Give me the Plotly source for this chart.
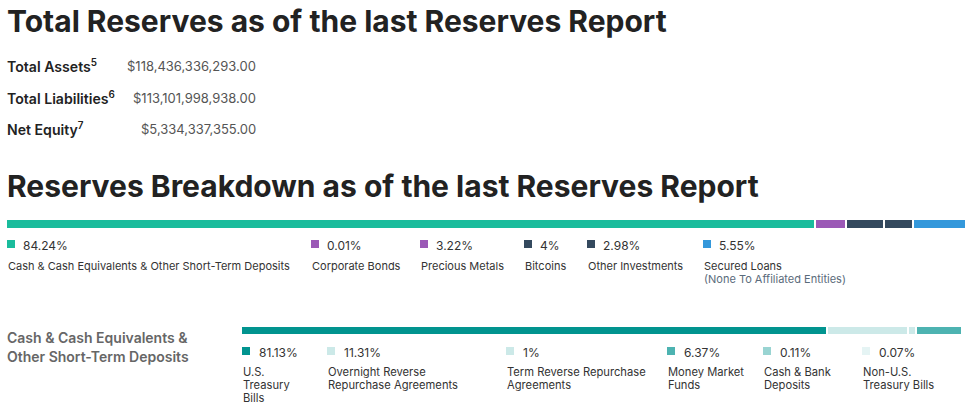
import plotly.graph_objects as go

W, H = 972, 410

# ---- data ----
summary_labels = ["Total Assets<sup>5</sup>", "Total Liabilities<sup>6</sup>", "Net Equity<sup>7</sup>"]
summary_values = ["$118,436,336,293.00", "$113,101,998,938.00", "$5,334,337,355.00"]

res_cats = ["Cash & Cash Equivalents & Other Short-Term Deposits", "Corporate Bonds",
            "Precious Metals", "Bitcoins", "Other Investments", "Secured Loans"]
res_vals = [84.24, 0.01, 3.22, 4, 2.98, 5.55]
res_pct_text = ["84.24%", "0.01%", "3.22%", "4%", "2.98%", "5.55%"]
res_colors = ["#1abc9c", "#9b59b6", "#9b59b6", "#34495e", "#34495e", "#3498db"]

cash_cats = [["U.S.", "Treasury", "Bills"], ["Overnight Reverse", "Repurchase Agreements"],
             ["Term Reverse Repurchase", "Agreements"], ["Money Market", "Funds"],
             ["Cash & Bank", "Deposits"], ["Non-U.S.", "Treasury Bills"]]
cash_vals = [81.13, 11.31, 1, 6.37, 0.11, 0.07]
cash_pct_text = ["81.13%", "11.31%", "1%", "6.37%", "0.11%", "0.07%"]
cash_colors = ["#01948f", "#cce9e8", "#cce9e8", "#4db3b1", "#99d4d2", "#e5f4f4"]

FONT = "Inter"

def px(x):
    return x / W

def py(y):
    return 1 - y / H

fig = go.Figure()

# Reserves breakdown bar (axis x/y)
for c, v, col in zip(res_cats, res_vals, res_colors):
    fig.add_trace(go.Bar(x=[v], y=[0], orientation="h", name=c,
                         marker=dict(color=col, line=dict(color="white", width=2)),
                         width=1, xaxis="x", yaxis="y", showlegend=False, hoverinfo="skip"))
# Cash breakdown bar (axis x2/y2)
for c, v, col in zip(cash_cats, cash_vals, cash_colors):
    fig.add_trace(go.Bar(x=[v], y=[0], orientation="h", name=" ".join(c),
                         marker=dict(color=col, line=dict(color="white", width=2)),
                         width=1, xaxis="x2", yaxis="y2", showlegend=False, hoverinfo="skip"))

ax_common = dict(showgrid=False, zeroline=False, showticklabels=False, fixedrange=True, showline=False)
fig.update_layout(
    barmode="stack",
    width=W, height=H,
    margin=dict(l=0, r=0, t=0, b=0),
    paper_bgcolor="white", plot_bgcolor="white",
    font=dict(family=FONT, color="#333333"),
    xaxis=dict(domain=[px(6), px(966)], range=[0, 100], **ax_common),
    yaxis=dict(domain=[py(229), py(219)], range=[-0.5, 0.5], **ax_common),
    xaxis2=dict(domain=[px(241), px(963)], range=[0, 100], anchor="y2", **ax_common),
    yaxis2=dict(domain=[py(335), py(326)], range=[-0.5, 0.5], anchor="x2", **ax_common),
)

ann = []
def text(x, y, t, size, color="#333333", weight=400, anchor="left"):
    ann.append(dict(x=px(x), y=py(y), xref="paper", yref="paper", text=t, showarrow=False,
                    xanchor=anchor, yanchor="middle", align="left",
                    font=dict(family=FONT, size=size, color=color, weight=weight)))

text(5, 21, "Total Reserves as of the last Reserves Report", 30, "#222222", 700)
text(5, 186, "Reserves Breakdown as of the last Reserves Report", 30, "#222222", 700)

sum_y = [65, 97, 128]
for lab, val, y in zip(summary_labels, summary_values, sum_y):
    text(5, y, lab, 14.1, "#222222", 600)
    text(258, y + 1, val, 13, "#555555", 400, anchor="right")

shapes = []
def square(x, y, col, s=8):
    shapes.append(dict(type="rect", xref="paper", yref="paper", x0=px(x), x1=px(x + s),
                       y0=py(y + s / 2), y1=py(y - s / 2), fillcolor=col, line=dict(width=0)))

row1_x = [6, 310, 419, 523, 586, 702]
for x, p, c, col in zip(row1_x, res_pct_text, res_cats, res_colors):
    square(x + 1, 244, col)
    text(x + 15, 245, p, 12, "#333333")
    text(x, 266, c, 11, "#333333")
text(702, 279, "(None To Affiliated Entities)", 11, "#5a6b7b")

text(5, 337, "Cash & Cash Equivalents &", 14, "#666666", 600)
text(5, 356, "Other Short-Term Deposits", 14, "#666666", 600)

row2_x = [241, 326, 505, 666, 762, 861]
for x, p, lines, col in zip(row2_x, cash_pct_text, cash_cats, cash_colors):
    square(x + 1, 351, col)
    text(x + 16, 352, p, 12, "#333333")
    for i, ln in enumerate(lines):
        text(x, 372 + 13 * i, ln, 11.2, "#333333")

fig.update_layout(annotations=ann, shapes=shapes)
fig.write_html("out.html", config={"displayModeBar": False},
               post_script="document.body.style.margin='0';")
